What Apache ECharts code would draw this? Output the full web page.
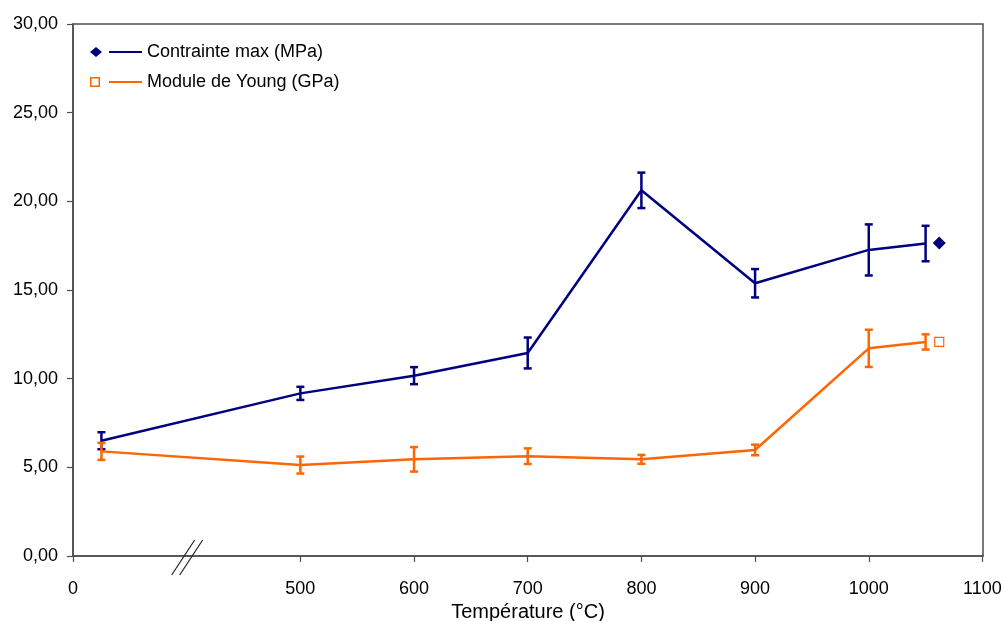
<!DOCTYPE html>
<html>
<head>
<meta charset="utf-8">
<script src="https://cdn.jsdelivr.net/npm/echarts@6/dist/echarts.min.js"></script>
<style>html,body{margin:0;padding:0;background:#fff;}#c{width:1005px;height:621px;}</style>
</head>
<body>
<div id="c"></div>
<script>
const temperatures = [25, 500, 600, 700, 800, 900, 1000, 1050];
const contrainteMax = [6.50, 9.17, 10.17, 11.45, 20.62, 15.38, 17.26, 17.62];
const contrainteErr = [0.48, 0.37, 0.48, 0.87, 1.00, 0.80, 1.44, 1.00];
const moduleYoung = [5.90, 5.13, 5.45, 5.63, 5.45, 5.98, 11.71, 12.07];
const moduleErr = [0.48, 0.48, 0.69, 0.44, 0.25, 0.30, 1.05, 0.43];
const strayMarkerX = [1062];
const strayContrainte = [17.65];
const strayModule = [12.07];
const xTickValues = [0, 500, 600, 700, 800, 900, 1000, 1100];

const NAVY = '#000080', ORANGE = '#FF6600', AXIS = '#4d4d4d';
const FONT = 'Liberation Sans, Arial, sans-serif';
const nameC = 'Contrainte max (MPa)', nameY = 'Module de Young (GPa)';

function errData(vals, errs) {
  return temperatures.map((t, i) => [t, vals[i] - errs[i], vals[i] + errs[i]]);
}
function errSeries(vals, errs, color) {
  return {
    type: 'custom', name: color === NAVY ? nameC : nameY,
    data: errData(vals, errs), encode: {x: 0, y: [1, 2]}, silent: true,
    renderItem: function (params, api) {
      const x = api.value(0);
      const lo = api.coord([x, api.value(1)]);
      const hi = api.coord([x, api.value(2)]);
      const w = 4;
      const st = {stroke: color, lineWidth: 2.5};
      return {type: 'group', children: [
        {type: 'line', shape: {x1: lo[0], y1: lo[1], x2: hi[0], y2: hi[1]}, style: st},
        {type: 'line', shape: {x1: lo[0] - w, y1: lo[1], x2: lo[0] + w, y2: lo[1]}, style: st},
        {type: 'line', shape: {x1: hi[0] - w, y1: hi[1], x2: hi[0] + w, y2: hi[1]}, style: st}
      ]};
    }
  };
}

const chart = echarts.init(document.getElementById('c'), null, {renderer: 'canvas'});
const option = {
  animation: false,
  backgroundColor: '#fff',
  textStyle: {fontFamily: FONT},
  grid: {left: 73, right: 22, top: 24, bottom: 65, outerBoundsMode: 'none', containLabel: false,
    show: true, borderColor: AXIS, borderWidth: 1.5, backgroundColor: 'transparent'},
  legend: {
    left: 90, top: 43, padding: 0, orient: 'vertical', itemWidth: 52, itemHeight: 10, itemGap: 12, itemTextGap: 6,
    textStyle: {fontSize: 18, color: '#000', fontFamily: FONT},
    data: [
      {name: nameC, icon: 'path://M0 5 L6 0 L12 5 L6 10 Z M19 4 L52 4 L52 6 L19 6 Z', itemStyle: {color: NAVY, borderWidth: 0}},
      {name: nameY, icon: 'path://M0 0 L10 0 L10 10 L0 10 Z M1.5 1.5 L1.5 8.5 L8.5 8.5 L8.5 1.5 Z M19 4 L52 4 L52 6 L19 6 Z', itemStyle: {color: ORANGE, borderWidth: 0}}
    ]
  },
  xAxis: {
    type: 'value', min: 0, max: 1100.5, interval: 100,
    breaks: [{start: 100, end: 400, gap: 0}],
    breakArea: {show: false},
    splitLine: {show: false},
    axisLine: {lineStyle: {color: AXIS, width: 1.5}},
    axisTick: {show: true, length: 6, inside: false, customValues: xTickValues, lineStyle: {color: AXIS, width: 1.2}},
    axisLabel: {fontSize: 18, color: '#000', margin: 24, fontFamily: FONT, hideOverlap: false, showMaxLabel: false,
      formatter: v => (xTickValues.indexOf(v) >= 0 ? String(v) : '')},
    name: 'Température (°C)', nameLocation: 'middle', nameGap: 33,
    nameTextStyle: {fontSize: 20, color: '#000', fontFamily: FONT}
  },
  yAxis: {
    type: 'value', min: 0, max: 30, interval: 5,
    splitLine: {show: false},
    axisLine: {show: true, lineStyle: {color: AXIS, width: 1.5}},
    axisTick: {show: true, length: 6, lineStyle: {color: AXIS, width: 1.2}},
    axisLabel: {fontSize: 18, color: '#000', margin: 15, fontFamily: FONT,
      formatter: v => v.toFixed(2).replace('.', ',')}
  },
  series: [
    {type: 'line', name: nameC, data: temperatures.map((t, i) => [t, contrainteMax[i]]),
      showSymbol: false, symbol: 'none', lineStyle: {color: NAVY, width: 2.5}, itemStyle: {color: NAVY}, z: 3},
    errSeries(contrainteMax, contrainteErr, NAVY),
    {type: 'line', name: nameY, data: temperatures.map((t, i) => [t, moduleYoung[i]]),
      showSymbol: false, symbol: 'none', lineStyle: {color: ORANGE, width: 2.5}, itemStyle: {color: ORANGE}, z: 4},
    Object.assign(errSeries(moduleYoung, moduleErr, ORANGE), {z: 4}),
    {type: 'scatter', name: nameC, symbol: 'diamond', symbolSize: 13,
      data: strayMarkerX.map((x, i) => [x, strayContrainte[i]]), itemStyle: {color: NAVY, opacity: 1}, z: 5},
    {type: 'scatter', name: nameY, symbol: 'rect', symbolSize: 9,
      data: strayMarkerX.map((x, i) => [x, strayModule[i]]), itemStyle: {color: '#fff', borderColor: ORANGE, borderWidth: 1.2, opacity: 1}, z: 5}
  ]
};
chart.setOption(option);

// axis-break "//" marks at the break position on the x axis
const bp = chart.convertToPixel({xAxisIndex: 0, yAxisIndex: 0}, [400, 0]);
chart.setOption({graphic: [
  {type: 'line', shape: {x1: bp[0] - 15, y1: bp[1] + 19, x2: bp[0] + 8, y2: bp[1] - 16}, style: {stroke: '#222', lineWidth: 1.2}, z: 10},
  {type: 'line', shape: {x1: bp[0] - 7, y1: bp[1] + 19, x2: bp[0] + 16, y2: bp[1] - 16}, style: {stroke: '#222', lineWidth: 1.2}, z: 10}
]});
</script>
</body>
</html>
